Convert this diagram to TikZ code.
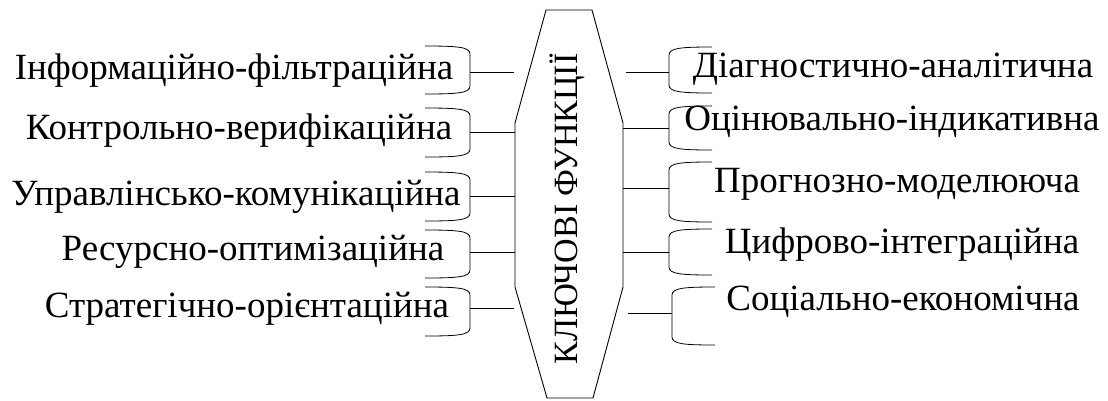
\documentclass[tikz,border=0pt]{standalone}
\usepackage{fontspec}
\newfontfamily\fa{Liberation Serif}
\newcommand\lf{\fa\fontsize{37bp}{42bp}\selectfont}
\newcommand\tf{\fa\fontsize{34bp}{40bp}\selectfont}
\newcommand\leftbrace[3]{\draw[br] ({#1-45},#2) .. controls ({#1-12},#2) and (#1,{#2+1}) .. (#1,{#2+8}) -- (#1,{#3-8}) .. controls (#1,{#3-1}) and ({#1-12},#3) .. ({#1-45},#3);}
\newcommand\rightbrace[3]{\draw[br] ({#1+43},#2) .. controls ({#1+12},#2) and (#1,{#2+1}) .. (#1,{#2+8}) -- (#1,{#3-8}) .. controls (#1,{#3-1}) and ({#1+12},#3) .. ({#1+43},#3);}
\begin{document}
\begin{tikzpicture}[x=1bp,y=-1bp,
  br/.style={line width=0.8bp},
  conn/.style={line width=1bp},
  lbl/.style={inner sep=0pt,anchor=base},
]
\useasboundingbox (0,0) rectangle (1108,400);
% central polygon
\draw[line width=0.9bp] (546,10) -- (592,10) -- (623,123) -- (623,287) -- (593,398) -- (547,398) -- (515,287) -- (515,123) -- cycle;
\node[lbl,rotate=90,font=\tf] (title) at (577,209) {КЛЮЧОВІ ФУНКЦІЇ};
% left labels
\node[lbl,font=\lf] (l1) at (234,79) {Інформаційно-фільтраційна};
\node[lbl,font=\lf] (l2) at (239,139) {Контрольно-верифікаційна};
\node[lbl,font=\lf] (l3) at (236,205) {Управлінсько-комунікаційна};
\node[lbl,font=\lf] (l4) at (253,260) {Ресурсно-оптимізаційна};
\node[lbl,font=\lf] (l5) at (247,317) {Стратегічно-орієнтаційна};
% right labels
\node[lbl,font=\lf] (r1) at (893,77) {Діагностично-аналітична};
\node[lbl,font=\lf] (r2) at (892,130) {Оцінювально-індикативна};
\node[lbl,font=\lf] (r3) at (897,192) {Прогнозно-моделююча};
\node[lbl,font=\lf] (r4) at (902,253) {Цифрово-інтеграційна};
\node[lbl,font=\lf] (r5) at (903,310) {Соціально-економічна};
% left braces
\leftbrace{470}{46}{94}
\leftbrace{470}{108}{157}
\leftbrace{470}{172}{221}
\leftbrace{470}{230}{278}
\leftbrace{470}{287}{336}
% right braces
\rightbrace{669}{47}{93}
\rightbrace{669}{106}{150}
\rightbrace{669}{162}{222}
\rightbrace{669}{229}{275}
\rightbrace{672}{287}{345}
% connector coordinates
\coordinate (lb1) at (470,72);  \coordinate (lp1) at (514,72);
\coordinate (lb2) at (470,132); \coordinate (lp2) at (515,132);
\coordinate (lb3) at (470,196); \coordinate (lp3) at (515,196);
\coordinate (lb4) at (470,252); \coordinate (lp4) at (515,252);
\coordinate (lb5) at (470,308); \coordinate (lp5) at (514,308);
\coordinate (rb1) at (669,72);  \coordinate (rp1) at (626,72);
\coordinate (rb2) at (669,128); \coordinate (rp2) at (623,128);
\coordinate (rb3) at (669,188); \coordinate (rp3) at (623,188);
\coordinate (rb4) at (669,252); \coordinate (rp4) at (623,252);
\coordinate (rb5) at (672,313); \coordinate (rp5) at (628,313);
\foreach \i in {1,...,5}{
  \draw[conn] (lb\i) -- (lp\i);
  \draw[conn] (rp\i) -- (rb\i);
}
\end{tikzpicture}
\end{document}
